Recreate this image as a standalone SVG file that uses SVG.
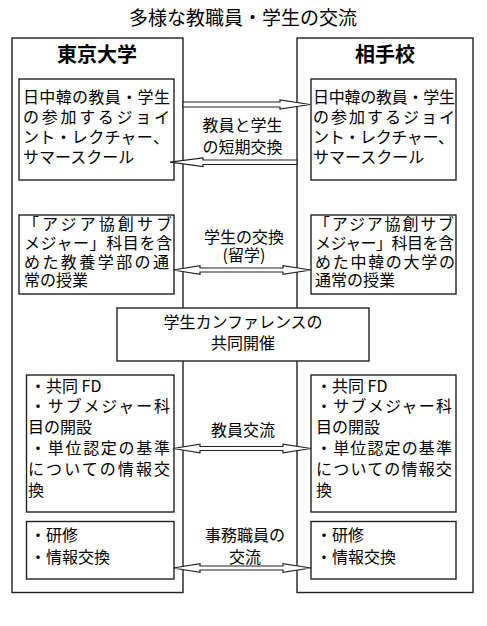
<svg xmlns="http://www.w3.org/2000/svg" width="487" height="626" viewBox="0 0 487 626">
<style>
text{font-family:"Noto Sans CJK JP","Noto Sans CJK SC",sans-serif;fill:#000;}
.t{font-size:16px;}
.m{font-size:16px;text-anchor:middle;}
.h{font-size:20px;font-weight:bold;text-anchor:middle;}
.ti{font-size:19px;text-anchor:middle;}
.outer{fill:#fff;stroke:#222;stroke-width:1.4;}
.box{fill:#fff;stroke:#222;stroke-width:1.4;}
.arr{fill:#fff;stroke:#222;stroke-width:1.2;stroke-linejoin:miter;}
</style>
<rect width="487" height="626" fill="#fff"/>
<text class="ti" x="243" y="25">多様な教職員・学生の交流</text>

<g id="tokyo">
<rect class="outer" x="12" y="38" width="171" height="554.5"/>
<text class="h" x="97" y="62">東京大学</text>
</g>
<g id="partner">
<rect class="outer" x="297" y="38" width="176" height="554.5"/>
<text class="h" x="385" y="62">相手校</text>
</g>

<g id="conference">
<rect class="box" x="117" y="308" width="252" height="53"/>
<text class="m" x="243" y="328">学生カンファレンスの</text>
<text class="m" x="243" y="349">共同開催</text>
</g>

<g id="tokyo-joint">
<rect class="box" x="19" y="79" width="155" height="101"/>
<text class="t" x="23" y="103" textLength="147" lengthAdjust="spacing">日中韓の教員・学生</text>
<text class="t" x="23" y="123" textLength="147" lengthAdjust="spacing">の参加するジョイ</text>
<text class="t" x="23" y="143" textLength="146" lengthAdjust="spacing">ント・レクチャー、</text>
<text class="t" x="23" y="163">サマースクール</text>
</g>
<g id="partner-joint">
<rect class="box" x="311" y="79" width="145" height="101"/>
<text class="t" x="313" y="103" textLength="142" lengthAdjust="spacing">日中韓の教員・学生</text>
<text class="t" x="313" y="123" textLength="142" lengthAdjust="spacing">の参加するジョイ</text>
<text class="t" x="313" y="143" textLength="141" lengthAdjust="spacing">ント・レクチャー、</text>
<text class="t" x="313" y="163">サマースクール</text>
</g>

<g id="tokyo-classes">
<rect class="box" x="19" y="215" width="155" height="79"/>
<text class="t" x="23" y="230" textLength="149" lengthAdjust="spacing">「アジア協創サブ</text>
<text class="t" x="24" y="249" textLength="148" lengthAdjust="spacing">メジャー」科目を含</text>
<text class="t" x="24" y="268" textLength="145" lengthAdjust="spacing">めた教養学部の通</text>
<text class="t" x="24" y="286">常の授業</text>
</g>
<g id="partner-classes">
<rect class="box" x="311" y="215" width="145" height="79"/>
<text class="t" x="314" y="230" textLength="140" lengthAdjust="spacing">「アジア協創サブ</text>
<text class="t" x="315" y="249" textLength="139" lengthAdjust="spacing">メジャー」科目を含</text>
<text class="t" x="315" y="268" textLength="140" lengthAdjust="spacing">めた中韓の大学の</text>
<text class="t" x="315" y="286">通常の授業</text>
</g>

<g id="tokyo-faculty">
<rect class="box" x="26.5" y="375" width="147.5" height="137"/>
<text class="t" x="30" y="392">・共同 FD</text>
<text class="t" x="30" y="412" textLength="140" lengthAdjust="spacing">・サブメジャー科</text>
<text class="t" x="28" y="433">目の開設</text>
<text class="t" x="30" y="454" textLength="140" lengthAdjust="spacing">・単位認定の基準</text>
<text class="t" x="28" y="475" textLength="142" lengthAdjust="spacing">についての情報交</text>
<text class="t" x="28" y="496">換</text>
</g>
<g id="partner-faculty">
<rect class="box" x="311" y="375" width="145" height="137"/>
<text class="t" x="316" y="392">・共同 FD</text>
<text class="t" x="316" y="412" textLength="136" lengthAdjust="spacing">・サブメジャー科</text>
<text class="t" x="316" y="433">目の開設</text>
<text class="t" x="316" y="454" textLength="136" lengthAdjust="spacing">・単位認定の基準</text>
<text class="t" x="316" y="475" textLength="136" lengthAdjust="spacing">についての情報交</text>
<text class="t" x="316" y="496">換</text>
</g>

<g id="tokyo-staff">
<rect class="box" x="26.5" y="521.5" width="147.5" height="57.5"/>
<text class="t" x="30" y="541">・研修</text>
<text class="t" x="30" y="563">・情報交換</text>
</g>
<g id="partner-staff">
<rect class="box" x="311" y="521.5" width="145" height="57.5"/>
<text class="t" x="316" y="541">・研修</text>
<text class="t" x="316" y="563">・情報交換</text>
</g>

<g id="connectors">
<polygon class="arr" points="183,102 280,102 280,100 310,104.5 280,109 280,107 183,107"/>
<polygon class="arr" points="297,160 203,160 203,158 170,162.2 203,166.5 203,164.5 297,164.5"/>
<polygon class="arr" points="173,270 200,265.7 200,268 283,268 283,265.7 311,270 283,274.3 283,272 200,272 200,274.3"/>
<polygon class="arr" points="173,448.5 200,444.2 200,446.5 283,446.5 283,444.2 311,448.5 283,452.8 283,450.5 200,450.5 200,452.8"/>
<polygon class="arr" points="173,568 200,563.7 200,566 283,566 283,563.7 311,568 283,572.3 283,570 200,570 200,572.3"/>
</g>

<g id="labels">
<text class="m" x="242.5" y="131">教員と学生</text>
<text class="m" x="242.5" y="153">の短期交換</text>
<text class="m" x="244" y="243">学生の交換</text>
<text class="m" x="244" y="261">(留学)</text>
<text class="m" x="243" y="436">教員交流</text>
<text class="m" x="245" y="541">事務職員の</text>
<text class="m" x="245" y="563">交流</text>
</g>
</svg>
